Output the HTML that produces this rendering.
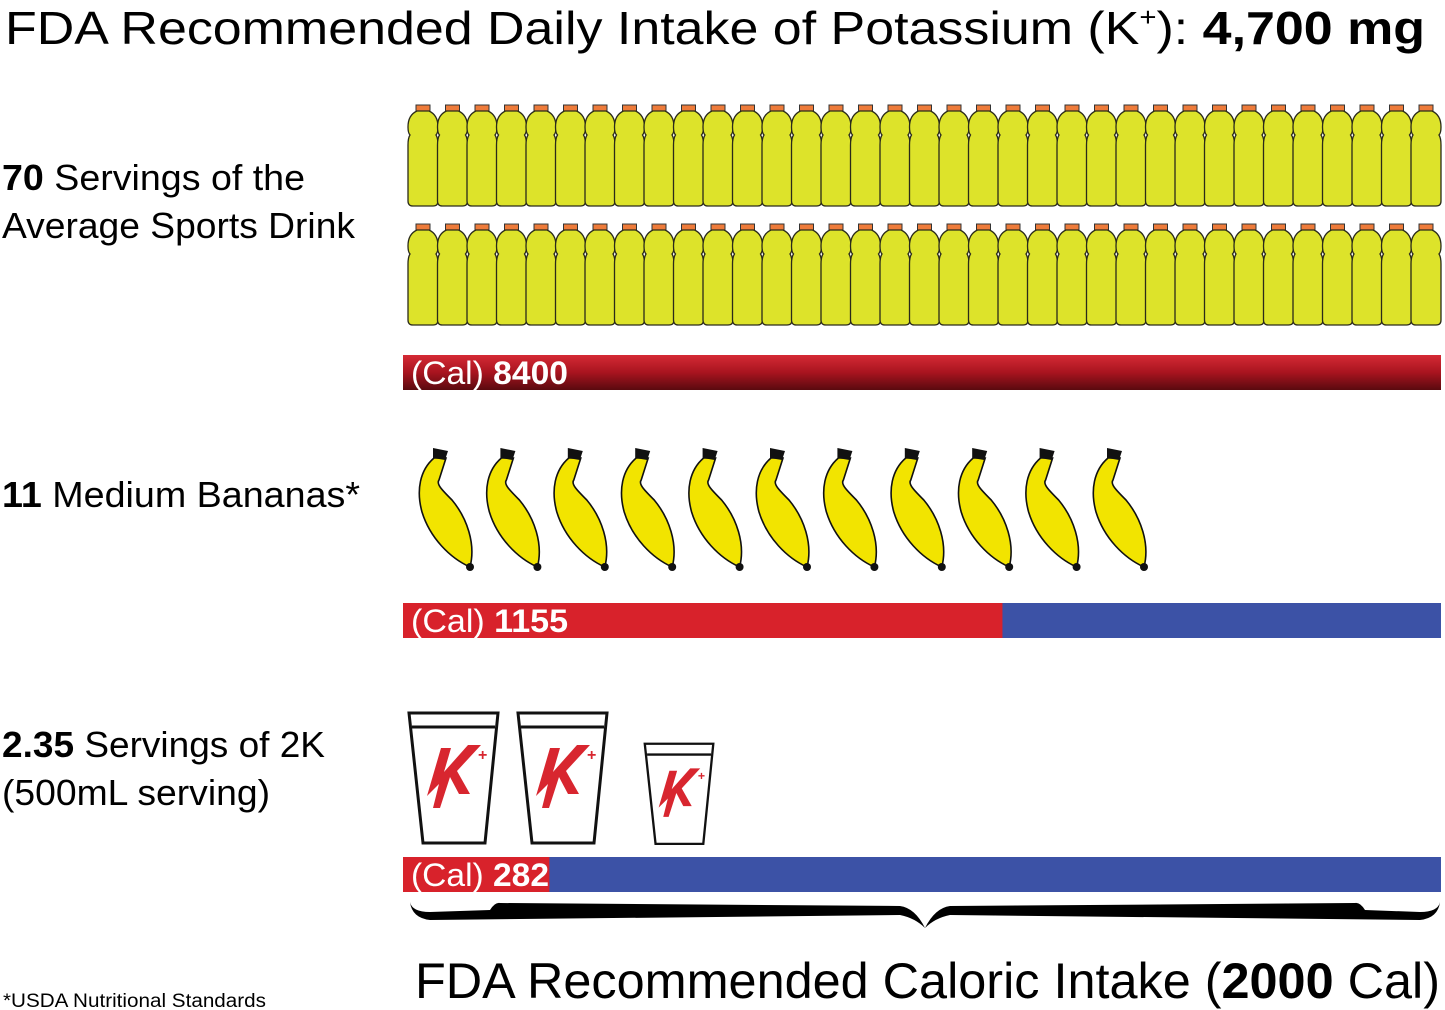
<!DOCTYPE html>
<html><head><meta charset="utf-8"><style>
html,body{margin:0;padding:0;background:#fff;}
svg{display:block;font-family:"Liberation Sans","DejaVu Sans",sans-serif;}
</style></head><body>
<svg id="chart" width="1445" height="1010" viewBox="0 0 1445 1010" xmlns="http://www.w3.org/2000/svg">
<defs>
<linearGradient id="darkred" x1="0" y1="0" x2="0" y2="1">
<stop offset="0" stop-color="#d52a35"/><stop offset="0.5" stop-color="#a8141f"/><stop offset="1" stop-color="#5a0a0f"/>
</linearGradient>
</defs>
<text x="5" y="44" font-size="46" textLength="1420" lengthAdjust="spacingAndGlyphs">FDA Recommended Daily Intake of Potassium (K<tspan font-size="26" dy="-18">+</tspan><tspan dy="18">):  </tspan><tspan font-weight="bold">4,700 mg</tspan></text>

<text x="2" y="190" font-size="36" textLength="303" lengthAdjust="spacingAndGlyphs"><tspan font-weight="bold">70</tspan> Servings of the</text>
<text x="2" y="238" font-size="36" textLength="353" lengthAdjust="spacingAndGlyphs">Average Sports Drink</text>
<text x="2" y="507" font-size="36" textLength="358" lengthAdjust="spacingAndGlyphs"><tspan font-weight="bold">11</tspan> Medium Bananas*</text>
<text x="2" y="757" font-size="36" textLength="323" lengthAdjust="spacingAndGlyphs"><tspan font-weight="bold">2.35</tspan> Servings of 2K</text>
<text x="2" y="805" font-size="36" textLength="268" lengthAdjust="spacingAndGlyphs">(500mL serving)</text>

<g id="bottles"></g>
<g id="bananas"></g>
<g id="cups"></g>
<g id="bars"></g>

<path d="M410,902 Q412,912 430,912 L490,910 Q495,902 500,903 L900,906 Q915,908 925,928 Q935,908 950,906 L1355,903 Q1360,902 1365,910 L1420,912 Q1438,912 1440,902 Q1438,918 1420,920 L950,915 Q935,918 925,928 Q915,918 900,915 L430,920 Q412,918 410,902 Z" fill="#000"/>

<text x="415" y="998" font-size="50" textLength="1025" lengthAdjust="spacingAndGlyphs">FDA Recommended Caloric Intake (<tspan font-weight="bold">2000</tspan> Cal)</text>
<text x="3" y="1007" font-size="19" textLength="263" lengthAdjust="spacingAndGlyphs">*USDA Nutritional Standards</text>
</svg>
<script>
const categories = ["Sports Drink", "Bananas", "2K"];
const servings = [70, 11, 2.35];
const calories = [8400, 1155, 282];
const calLabels = ["8400", "1155", "282"];
const calorieGoal = [2000];

const NS = "http://www.w3.org/2000/svg";
const barX0 = 403, barX1 = 1441;
function xCal(c){ return barX0 + Math.min(c, calorieGoal[0]) / calorieGoal[0] * (barX1 - barX0); }
function mk(tag, attrs, parent){ const e = document.createElementNS(NS, tag); for (const k in attrs) e.setAttribute(k, attrs[k]); parent.appendChild(e); return e; }

const gB = document.getElementById('bottles');
const perRow = 35, pitch = 29.5;
for (let i = 0; i < servings[0]; i++) {
  const r = Math.floor(i / perRow), c = i % perRow;
  const x = 408 + c * pitch, y = 105 + r * 119;
  const g = mk('g', {transform: `translate(${x},${y})`}, gB);
  
  
  mk('rect', {x: 8, y: 0, width: 14, height: 6, fill: '#ee7b3a', stroke: '#333', 'stroke-width': 1}, g);
  mk('path', {d: 'M9,6 L21,6 Q30,10 30,22 Q30,28 28,30 Q30,33 30,40 L30,96 Q30,101 25,101 L5,101 Q0,101 0,96 L0,40 Q0,33 2,30 Q0,28 0,22 Q0,10 9,6 Z', fill: '#dde32a', stroke: '#2a2a1a', 'stroke-width': 1.3}, g);
}

const gN = document.getElementById('bananas');
for (let i = 0; i < servings[1]; i++) {
  const x = 412 + i * 67.4, y = 440;
  const g = mk('g', {transform: `translate(${x},${y})`}, gN);
  
  
  mk('path', {d: 'M22,18 C8,30 4,50 10,72 C18,98 38,118 58,127 C64,104 55,78 40,60 C30,50 24,44 27,40 L34,18 Z', fill: '#f2e400', stroke: '#111', 'stroke-width': 1.6}, g);
  mk('path', {d: 'M21,8 L36,11 L33,20 L21,18 Z', fill: '#111'}, g);
  mk('circle', {cx: 58, cy: 127, r: 4, fill: '#111'}, g);
}

const gC = document.getElementById('cups');
const cupDefs = [];
for (let i = 0; i < Math.ceil(servings[2]); i++) cupDefs.push(Math.min(1, servings[2] - i));
cupDefs.forEach((frac, i) => {
  const s = frac >= 1 ? 1 : 0.77;
  const x = 408 + i * 109 + (frac >= 1 ? 0 : 18), y = frac >= 1 ? 712 : 743;
  const g = mk('g', {transform: `translate(${x},${y}) scale(${s})`}, gC);
  
  
  mk('path', {d: 'M1,1 L90,1 L77,131 L15,131 Z', fill: '#fff', stroke: '#111', 'stroke-width': 3}, g);
  mk('line', {x1: 4, y1: 15, x2: 87, y2: 15, stroke: '#111', 'stroke-width': 3}, g);
  mk('path', {d: 'M33,36 L43,36 L36,60 L60,33 L73,33 L49,59 L62,82 L51,82 L42,65 L32,96 L25,96 L31,72 L19,84 Z', fill: '#d8262f'}, g);
  mk('text', {x: 70, y: 48, 'font-size': 16, 'font-weight': 'bold', fill: '#d8262f'}, g).textContent = '+';
});

const gR = document.getElementById('bars');
const barYs = [355, 603, 857];
const labelLens = [157, 157, 138];
categories.forEach((cat, i) => {
  const y = barYs[i], h = 35;
  if (calories[i] < calorieGoal[0]) {
    const bg = mk('rect', {x: barX0, y: y, width: barX1 - barX0, height: h, fill: '#3c52a6'}, gR);
    
    
  }
  const fill = calories[i] > calorieGoal[0] ? 'url(#darkred)' : '#d8222b';
  const b = mk('rect', {x: barX0, y: y, width: xCal(calories[i]) - barX0, height: h, fill: fill}, gR);
  
  
  const t = mk('text', {x: 411, y: y + 29, 'font-size': 32, fill: '#fff', textLength: labelLens[i], lengthAdjust: 'spacingAndGlyphs'}, gR);
  
  
  t.innerHTML = '(Cal) <tspan font-weight="bold">' + calLabels[i] + '</tspan>';
});
</script>
</body></html>
